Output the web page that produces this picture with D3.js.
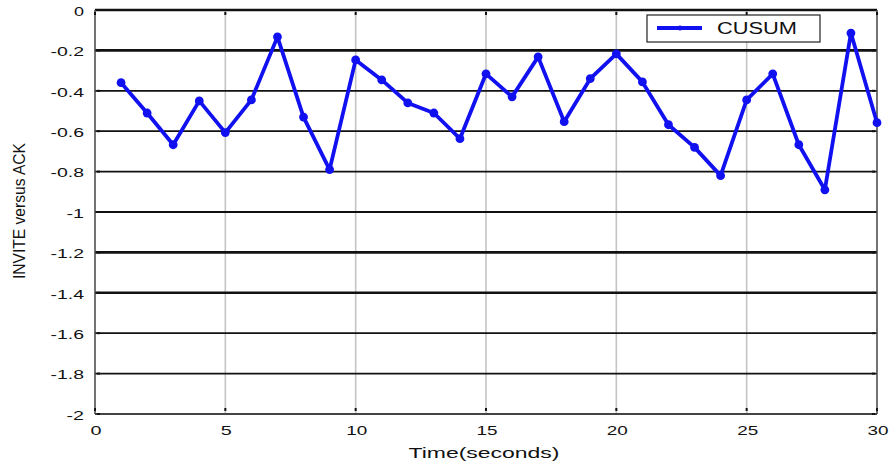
<!DOCTYPE html>
<html>
<head>
<meta charset="utf-8">
<script src="https://cdn.jsdelivr.net/npm/d3@7/dist/d3.min.js"></script>
<style>
  html, body { margin: 0; padding: 0; background: #fff; }
  svg text { font-family: "Liberation Sans", Arial, Helvetica, sans-serif; fill: #111; }
</style>
</head>
<body>
<svg id="chart" width="892" height="461"></svg>
<script>
// CUSUM statistic for INVITE versus ACK, one value per second
const times = [1, 2, 3, 4, 5, 6, 7, 8, 9, 10, 11, 12, 13, 14, 15,
               16, 17, 18, 19, 20, 21, 22, 23, 24, 25, 26, 27, 28, 29, 30];
const cusum = [-0.36, -0.51, -0.667, -0.45, -0.607, -0.445, -0.133, -0.53, -0.79, -0.247,
               -0.346, -0.46, -0.51, -0.637, -0.316, -0.43, -0.232, -0.553, -0.34, -0.217,
               -0.356, -0.568, -0.68, -0.82, -0.445, -0.316, -0.667, -0.89, -0.114, -0.558];
const xTicks = [0, 5, 10, 15, 20, 25, 30];
const yTicks = [0, -0.2, -0.4, -0.6, -0.8, -1, -1.2, -1.4, -1.6, -1.8, -2];
const seriesName = "CUSUM";

const svg = d3.select("#chart");
const pLeft = 95, pRight = 877, pTop = 10, pBottom = 414;

const x = d3.scaleLinear().domain([0, 30]).range([pLeft, pRight]);
const y = d3.scaleLinear().domain([-2, 0]).range([pBottom, pTop]);

const fmtY = v => v === 0 ? "0" : (Number.isInteger(v) ? String(v) : v.toFixed(1));
// wide, loosely spaced label lettering: width per glyph
const glyphW = { "-": 7.5, ".": 6, default: 10 };
const labelWidth = s => [...s].reduce((w, c) => w + (glyphW[c] || glyphW.default), 0);

// vertical grid (light gray)
svg.append("g")
  .selectAll("line").data(xTicks.slice(1, -1)).join("line")
  .attr("x1", d => x(d)).attr("x2", d => x(d))
  .attr("y1", pTop).attr("y2", pBottom)
  .attr("stroke", "#c4c4c4").attr("stroke-width", 1.6);

// horizontal grid (black)
const heavy = new Set([0, -0.2, -1.2, -1.4]);
svg.append("g")
  .selectAll("line").data(yTicks).join("line")
  .attr("x1", pLeft).attr("x2", pRight)
  .attr("y1", d => y(d)).attr("y2", d => y(d))
  .attr("stroke", d => d === -2 ? "#444" : "#111")
  .attr("stroke-width", d => heavy.has(d) ? 2.6 : 1.8);

// frame
svg.append("line").attr("x1", pLeft).attr("x2", pLeft).attr("y1", pTop).attr("y2", pBottom)
  .attr("stroke", "#444").attr("stroke-width", 1.5);
svg.append("line").attr("x1", pRight).attr("x2", pRight).attr("y1", pTop).attr("y2", pBottom)
  .attr("stroke", "#444").attr("stroke-width", 1.5);

// small inner tick marks
const tk = svg.append("g").attr("fill", "#111");
tk.selectAll("rect.xt").data(xTicks).join("rect")
  .attr("x", d => x(d) - 1).attr("y", pTop + 2).attr("width", 2).attr("height", 3);
tk.selectAll("rect.xb").data(xTicks).join("rect")
  .attr("x", d => x(d) - 1).attr("y", pBottom - 6).attr("width", 2).attr("height", 3);
tk.selectAll("rect.yl").data(yTicks).join("rect")
  .attr("x", pLeft + 2).attr("y", d => y(d) - 1).attr("width", 3).attr("height", 2);
tk.selectAll("rect.yr").data(yTicks).join("rect")
  .attr("x", pRight - 5).attr("y", d => y(d) - 1).attr("width", 3).attr("height", 2);

// axis tick labels
svg.append("g").selectAll("text").data(yTicks).join("text")
  .attr("x", pLeft - 11).attr("y", d => y(d) + 1).attr("dy", "0.35em")
  .attr("text-anchor", "end").attr("font-size", 13.5)
  .attr("textLength", d => labelWidth(fmtY(d))).attr("lengthAdjust", "spacingAndGlyphs")
  .text(fmtY);
svg.append("g").selectAll("text").data(xTicks).join("text")
  .attr("x", d => x(d) + 1).attr("y", pBottom + 21)
  .attr("text-anchor", "middle").attr("font-size", 13.5)
  .attr("textLength", d => labelWidth(String(d)) + 1).attr("lengthAdjust", "spacingAndGlyphs")
  .text(d => d);

// axis titles
svg.append("text").attr("x", 484).attr("y", 458)
  .attr("text-anchor", "middle").attr("font-size", 15)
  .attr("textLength", 151).attr("lengthAdjust", "spacingAndGlyphs")
  .text("Time(seconds)");
svg.append("text")
  .attr("transform", `translate(25, 211) rotate(-90)`)
  .attr("text-anchor", "middle").attr("font-size", 17)
  .attr("textLength", 136).attr("lengthAdjust", "spacingAndGlyphs")
  .text("INVITE versus ACK");

// series line and markers
const pts = times.map((t, i) => [t, cusum[i]]);
const blue = "#1010f0";
svg.append("path").datum(pts)
  .attr("d", d3.line().x(d => x(d[0])).y(d => y(d[1])))
  .attr("fill", "none").attr("stroke", blue).attr("stroke-width", 3.8)
  .attr("stroke-linejoin", "round");
svg.append("g").selectAll("circle").data(pts).join("circle")
  .attr("cx", d => x(d[0])).attr("cy", d => y(d[1])).attr("r", 4.4)
  .attr("fill", blue);

// legend
const lg = svg.append("g");
lg.append("rect").attr("x", 647).attr("y", 15).attr("width", 173).attr("height", 27)
  .attr("fill", "#fff").attr("stroke", "#222").attr("stroke-width", 1.2);
lg.append("line").attr("x1", 657).attr("x2", 702).attr("y1", 28).attr("y2", 28)
  .attr("stroke", blue).attr("stroke-width", 3.8);
lg.append("circle").attr("cx", 680).attr("cy", 28).attr("r", 2.5).attr("fill", blue);
lg.append("text").attr("x", 717).attr("y", 34)
  .attr("font-size", 16)
  .attr("textLength", 80).attr("lengthAdjust", "spacingAndGlyphs")
  .text(seriesName);
</script>
</body>
</html>
